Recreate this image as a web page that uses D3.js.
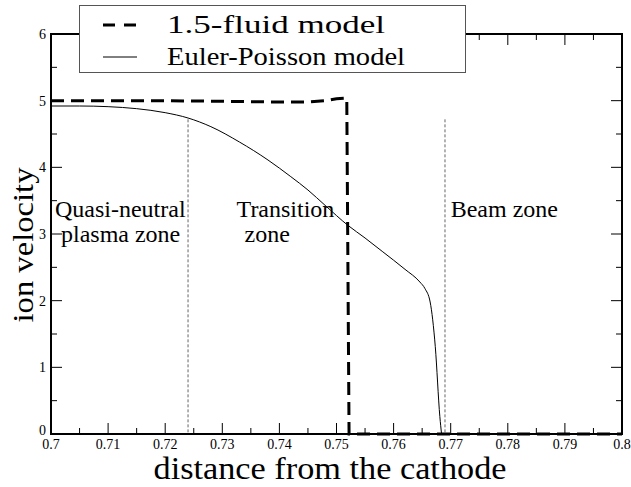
<!DOCTYPE html>
<html><head><meta charset="utf-8">
<script src="https://cdn.jsdelivr.net/npm/d3@7"></script>
</head><body style="margin:0"><svg id="c" width="631" height="487" style="display:block;background:#fff"></svg>
<script>
const xTicks = [0.7,0.71,0.72,0.73,0.74,0.75,0.76,0.77,0.78,0.79,0.8];
const xTickLabels = ["0.7","0.71","0.72","0.73","0.74","0.75","0.76","0.77","0.78","0.79","0.8"];
const yTicks = [0,1,2,3,4,5,6];
const fluidX = [0.700,0.710,0.720,0.730,0.740,0.745,0.748,0.750,0.7518,0.7522,0.7527,0.800];
const fluidY = [5.00,5.00,5.00,4.99,4.98,4.98,5.00,5.03,5.04,0.00,0.00,0.00];
const eulerX = [0.700,0.705,0.710,0.715,0.720,0.724,0.728,0.733,0.738,0.742,0.745,0.748,0.752,0.755,0.758,0.762,0.7646,0.7655,0.7664,0.7673,0.7681,0.7684];
const eulerY = [4.92,4.92,4.91,4.88,4.82,4.74,4.61,4.38,4.11,3.86,3.66,3.43,3.13,2.94,2.74,2.47,2.28,2.18,1.98,1.31,0.26,0.00];
const zoneX = [0.724,0.769];
const zoneTop = 4.72;
const legendLabels = ["1.5-fluid model","Euler-Poisson model"];
const zoneLabels = [{x:0.7007,lines:["Quasi-neutral","plasma zone"],dx:[0,6]},{x:0.7325,lines:["Transition","zone"],dx:[0,8]},{x:0.7700,lines:["Beam zone"],dx:[0]}];

const FONT = "Liberation Serif";
const svg = d3.select("#c");
const L=51,R=622,T=34,B=434;
const x = d3.scaleLinear().domain([0.7,0.8]).range([L,R]);
const y = d3.scaleLinear().domain([0,6]).range([B,T]);
const minorX = d3.range(0,21).map(i=>0.7+i*0.005);
const minorY = d3.range(0,13).map(i=>i*0.5);

minorX.forEach((v,i)=>{
  const len = i%2===0?11:6;
  svg.append("line").attr("stroke","#000").attr("x1",x(v)).attr("x2",x(v)).attr("y1",B).attr("y2",B-len);
  svg.append("line").attr("stroke","#000").attr("x1",x(v)).attr("x2",x(v)).attr("y1",T).attr("y2",T+len);
});
minorY.forEach((v,i)=>{
  const len = i%2===0?11:6;
  svg.append("line").attr("stroke","#000").attr("y1",y(v)).attr("y2",y(v)).attr("x1",L).attr("x2",L+len);
  svg.append("line").attr("stroke","#000").attr("y1",y(v)).attr("y2",y(v)).attr("x1",R).attr("x2",R-len);
});
svg.append("rect").attr("x",L).attr("y",T).attr("width",R-L).attr("height",B-T).attr("fill","none").attr("stroke","#000").attr("stroke-width",2);

function txt(){ return svg.append("text").attr("font-family",FONT); }

xTicks.forEach((v,i)=>{
  txt().attr("x",x(v)).attr("y",448.5).attr("text-anchor","middle").attr("font-size",14).text(xTickLabels[i]);
});
yTicks.forEach(v=>{
  txt().attr("x",L-5).attr("y",y(v)+(v===0?1:5)).attr("text-anchor","end").attr("font-size",14).text(v);
});

zoneX.forEach(v=>{
  svg.append("line").attr("x1",x(v)).attr("x2",x(v)).attr("y1",y(zoneTop)).attr("y2",y(0))
   .attr("stroke","#666").attr("stroke-width",1).attr("stroke-dasharray","3,2");
});

const smooth = d3.line().x(d=>x(d[0])).y(d=>y(d[1])).curve(d3.curveMonotoneX);
const straight = d3.line().x(d=>x(d[0])).y(d=>y(d[1]));
svg.append("path").attr("d",smooth(eulerX.map((v,i)=>[v,eulerY[i]]))).attr("fill","none").attr("stroke","#000").attr("stroke-width",1);
svg.append("path").attr("d",straight(fluidX.map((v,i)=>[v,fluidY[i]]))).attr("fill","none").attr("stroke","#000").attr("stroke-width",3).attr("stroke-dasharray","13,7");

zoneLabels.forEach(z=>{
  z.lines.forEach((t,i)=>{
    txt().attr("x",x(z.x)+z.dx[i]).attr("y",217+i*25).attr("font-size",24).text(t);
  });
});

txt().attr("x",330).attr("y",479).attr("text-anchor","middle").attr("font-size",31).attr("textLength",353).attr("lengthAdjust","spacingAndGlyphs").text("distance from the cathode");
txt().attr("transform","translate(33,245) rotate(-90)").attr("text-anchor","middle").attr("font-size",30).attr("textLength",155).attr("lengthAdjust","spacingAndGlyphs").text("ion velocity");

svg.append("rect").attr("x",79.5).attr("y",5.5).attr("width",386).attr("height",67).attr("fill","#fff").attr("stroke","#555").attr("stroke-width",1);
svg.append("line").attr("x1",103).attr("x2",137).attr("y1",25).attr("y2",25).attr("stroke","#000").attr("stroke-width",3).attr("stroke-dasharray","12,9");
svg.append("line").attr("x1",103).attr("x2",137).attr("y1",57).attr("y2",57).attr("stroke","#000").attr("stroke-width",1);
const legendLen = [218,238];
legendLabels.forEach((t,i)=>{
  txt().attr("x",167).attr("y",33+i*32).attr("font-size",25).attr("textLength",legendLen[i]).attr("lengthAdjust","spacingAndGlyphs").text(t);
});
</script></body></html>
